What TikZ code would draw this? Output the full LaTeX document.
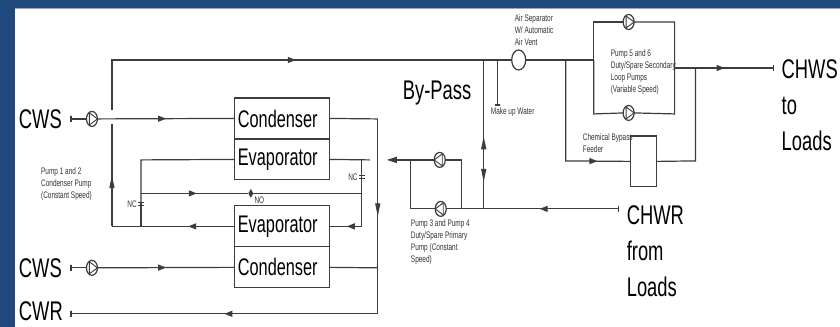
\documentclass[tikz,border=0pt]{standalone}
\usepackage{fontspec}
\newfontfamily\diagfont[FakeStretch=0.68]{Liberation Sans}
\usetikzlibrary{shapes,arrows.meta,positioning,decorations.markings}
\definecolor{slideblue}{HTML}{1F497D}
\definecolor{slideedge}{HTML}{8FA8C8}
\definecolor{pipegray}{HTML}{3C3C3C}

\begin{document}
\begin{tikzpicture}[
    x=1pt, y=-1pt,
    pipe/.style={draw=pipegray, line width=1.2pt},
    flowat/.style={postaction={decorate, decoration={markings, mark=at position #1 with {\arrow{Triangle[length=8pt,width=6pt]}}}}},
    flowvert/.style={postaction={decorate, decoration={markings, mark=at position #1 with {\arrow{Triangle[length=13pt,width=5pt]}}}}},
    unit/.style={rectangle, draw=pipegray, line width=1.2pt, minimum width=95pt, minimum height=41pt, inner xsep=3pt, inner ysep=0pt, outer sep=0pt, text width=89pt, align=left, font=\diagfont\fontsize{24}{24}\selectfont},
    biglabel/.style={anchor=west, inner sep=0pt, align=left, font=\diagfont\fontsize{27}{36}\selectfont},
    smalllabel/.style={anchor=west, inner sep=0pt, align=left, text=black!80, font=\diagfont\fontsize{9.5}{12}\selectfont},
    endstop/.style={rectangle, draw=pipegray, line width=1.2pt, minimum width=0pt, minimum height=6pt, inner sep=0pt, outer sep=0pt},
    endstopflat/.style={rectangle, draw=pipegray, line width=1.2pt, minimum width=5pt, minimum height=0pt, inner sep=0pt, outer sep=0pt},
    pump/.style={ellipse, draw=pipegray, line width=1.2pt, minimum width=11pt, minimum height=15pt, inner sep=0pt, outer sep=0pt,
      path picture={
        \draw[pipegray, line width=.9pt] ([shift={(#1*-2.5pt,6pt)}]path picture bounding box.center)
          -- ([shift={(#1*5.5pt,0pt)}]path picture bounding box.center)
          -- ([shift={(#1*-2.5pt,-6pt)}]path picture bounding box.center) -- cycle;
      }
    },
    ncvalve/.style={rectangle, minimum width=6pt, minimum height=3.5pt, inner sep=0pt, outer sep=0pt,
      path picture={
        \draw[pipegray, line width=1.8pt] (path picture bounding box.north west) -- (path picture bounding box.north east);
        \draw[pipegray, line width=1.8pt] (path picture bounding box.south west) -- (path picture bounding box.south east);
        \draw[pipegray, line width=1.2pt] (path picture bounding box.north) -- (path picture bounding box.south);
      }
    },
    novalve/.style={diamond, fill=pipegray, minimum width=5pt, minimum height=9pt, inner sep=0pt, outer sep=0pt}
  ]
  \fill[slideblue] (0,0) rectangle (840,327);
  \fill[white] (15,9) rectangle (840,327);
  \draw[slideedge, line width=1pt] (15,9) -- (840,9);
  \useasboundingbox (0,0) rectangle (840,327);
  \node[unit] (condtop) at (282.5,118.5) {Condenser};
  \node[unit, below=0pt of condtop] (evaptop) {Evaporator};
  \node[unit] (evapbot) at (282.5,226.5) {Evaporator};
  \node[unit, below=0pt of evapbot] (condbot) {Condenser};
  \node[endstop] (cwstop) at (71,119) {};
  \node[endstop] (cwsbot) at (71,268) {};
  \node[endstop] (cwr) at (71,314) {};
  \node[endstop] (chwr) at (619,209) {};
  \node[endstop] (chws) at (774,68) {};
  \node[endstopflat] (makeup) at (498,105) {};
  \node[biglabel, left=9pt of cwstop, anchor=east] (cwstoplabel) {CWS};
  \node[biglabel, left=9pt of cwsbot, anchor=east] (cwsbotlabel) {CWS};
  \node[biglabel, left=8pt of cwr, anchor=east, yshift=2.5pt] (cwrlabel) {CWR};
  \node[biglabel] (bypasslabel) at (403,93) {By-Pass};
  \node[biglabel] (chwslabel) at (782,105) {CHWS\\to\\Loads};
  \node[biglabel] (chwrlabel) at (627,251) {CHWR\\from\\Loads};
  \node[pump=1] (pumpone) at (92,119) {};
  \node[pump=1] (pumptwo) at (92,268) {};
  \node[pump=-1] (pumpthree) at (440,160) {};
  \node[pump=-1] (pumpfour) at (441,209) {};
  \node[pump=1] (pumpfive) at (629,22) {};
  \node[pump=1] (pumpsix) at (629,113) {};
  \node[ellipse, draw=pipegray, line width=1.2pt, minimum width=14pt, minimum height=20pt, inner sep=0pt, outer sep=0pt] (airsep) at (519,60) {};
  \node[rectangle, draw=pipegray, line width=1.2pt, minimum width=26pt, minimum height=51pt, inner sep=0pt, outer sep=0pt] (feeder) at (644,161.5) {};
  \node[ncvalve, label={[smalllabel, anchor=east, xshift=-1pt]left:NC}] (ncleft) at (141,204) {};
  \node[ncvalve, label={[smalllabel, anchor=east, xshift=-1pt]left:NC}] (ncright) at (362,177) {};
  \node[novalve, label={[smalllabel, anchor=west, yshift=-7pt, xshift=1pt]right:NO}] (noval) at (251,193.5) {};
  \coordinate (hopabove) at (112,110);
  \coordinate (hopbelow) at (112,124);
  \coordinate (topcorner) at (112,60);
  \coordinate (retcorner) at (112,226.5);
  \coordinate (ncleftup) at (141,160);
  \coordinate (ncleftmid) at (141,193.5);
  \coordinate (ncleftlow) at (141,226.5);
  \coordinate (ncrighttop) at (362,160);
  \coordinate (ncrightend) at (370,160);
  \coordinate (ncrightmid) at (362,193.5);
  \coordinate (ncrightlow) at (362,226.5);
  \coordinate (cwrtop) at (378,119);
  \coordinate (cwrmid) at (378,268);
  \coordinate (cwrlow) at (378,314);
  \coordinate (primout) at (387,160);
  \coordinate (primleft) at (411,160);
  \coordinate (primleftlow) at (411,209);
  \coordinate (primright) at (462,160);
  \coordinate (primrightlow) at (462,209);
  \coordinate (bypasstop) at (484,60);
  \coordinate (bypassmid) at (484,158);
  \coordinate (bypasslow) at (484,209);
  \coordinate (makeuptop) at (498,60);
  \coordinate (feedertop) at (566,60);
  \coordinate (feederlow) at (566,161);
  \coordinate (loopleft) at (594,60);
  \coordinate (looptl) at (594,22);
  \coordinate (loopbl) at (594,114);
  \coordinate (looptr) at (675,22);
  \coordinate (loopbr) at (675,114);
  \coordinate (loopout) at (675,68);
  \coordinate (feederout) at (696,68);
  \coordinate (feederright) at (696,161);
  \draw[pipe] (cwstop) -- (pumpone);
  \draw[pipe, flowat=.5] (pumpone) -- (condtop.west);
  \draw[pipe] (cwsbot) -- (pumptwo);
  \draw[pipe, flowat=.5] (pumptwo) -- (condbot.west);
  \draw[pipe, flowat=.52] (hopabove) -- (topcorner) -- (airsep.west);
  \draw[pipe, flowvert=.5] (retcorner) -- (hopbelow);
  \draw[pipe, flowat=.38] (evapbot.west) -- (retcorner);
  \draw[pipe] (evaptop.west) -- (ncleftup) -- (ncleftmid) -- (ncleft.north);
  \draw[pipe] (ncleft.south) -- (ncleftlow);
  \draw[pipe, flowat=.52] (ncleftmid) -- (noval.west);
  \draw[pipe] (noval.east) -- (ncrightmid);
  \draw[pipe] (evaptop.east) -- (ncrightend);
  \draw[pipe] (ncrighttop) -- (ncright.north);
  \draw[pipe] (ncright.south) -- (ncrightmid) -- (ncrightlow);
  \draw[pipe, flowat=.47] (ncrightlow) -- (evapbot.east);
  \draw[pipe] (condtop.east) -- (cwrtop);
  \draw[pipe, flowvert=.5] (cwrtop) -- (cwrlow);
  \draw[pipe] (condbot.east) -- (cwrmid);
  \draw[pipe, flowat=.5] (cwrlow) -- (cwr);
  \draw[pipe] (primrightlow) -- (primright) -- (pumpthree.east);
  \draw[pipe, -{Triangle[length=10pt,width=6pt]}] (pumpthree.west) -- (primout);
  \draw[pipe] (primleft) -- (primleftlow) -- (pumpfour.west);
  \draw[pipe] (pumpfour.east) -- (bypasslow);
  \draw[pipe, flowat=.585] (chwr) -- (bypasslow);
  \draw[pipe, flowvert=.22] (bypassmid) -- (bypasstop);
  \draw[pipe, flowvert=.47] (bypassmid) -- (bypasslow);
  \draw[pipe] (makeuptop) -- (makeup);
  \draw[pipe] (airsep.east) -- (loopleft);
  \draw[pipe] (loopleft) -- (looptl) -- (pumpfive.west);
  \draw[pipe] (pumpfive.east) -- (looptr) -- (loopbr) -- (pumpsix.east);
  \draw[pipe] (pumpsix.west) -- (loopbl) -- (loopleft);
  \draw[pipe, flowat=.505] (loopout) -- (chws);
  \draw[pipe, flowat=.8] (feedertop) -- (feederlow) -- (feeder.west);
  \draw[pipe] (feeder.east) -- (feederright) -- (feederout);
  \node[smalllabel] (pumponelabel) at (41,184) {Pump 1 and 2\\Condenser Pump\\(Constant Speed)};
  \node[smalllabel] (pumpthreelabel) at (411,242) {Pump 3 and Pump 4\\Duty/Spare Primary\\Pump (Constant\\Speed)};
  \node[smalllabel] (airseplabel) at (515,30) {Air Separator\\W/ Automatic\\Air Vent};
  \node[smalllabel] (pumpfivelabel) at (611,72) {Pump 5 and 6\\Duty/Spare Secondary\\Loop Pumps\\(Variable Speed)};
  \node[smalllabel] (makeuplabel) at (491,112) {Make up Water};
  \node[smalllabel] (feederlabel) at (583,143) {Chemical Bypass\\Feeder};
\end{tikzpicture}
\end{document}
